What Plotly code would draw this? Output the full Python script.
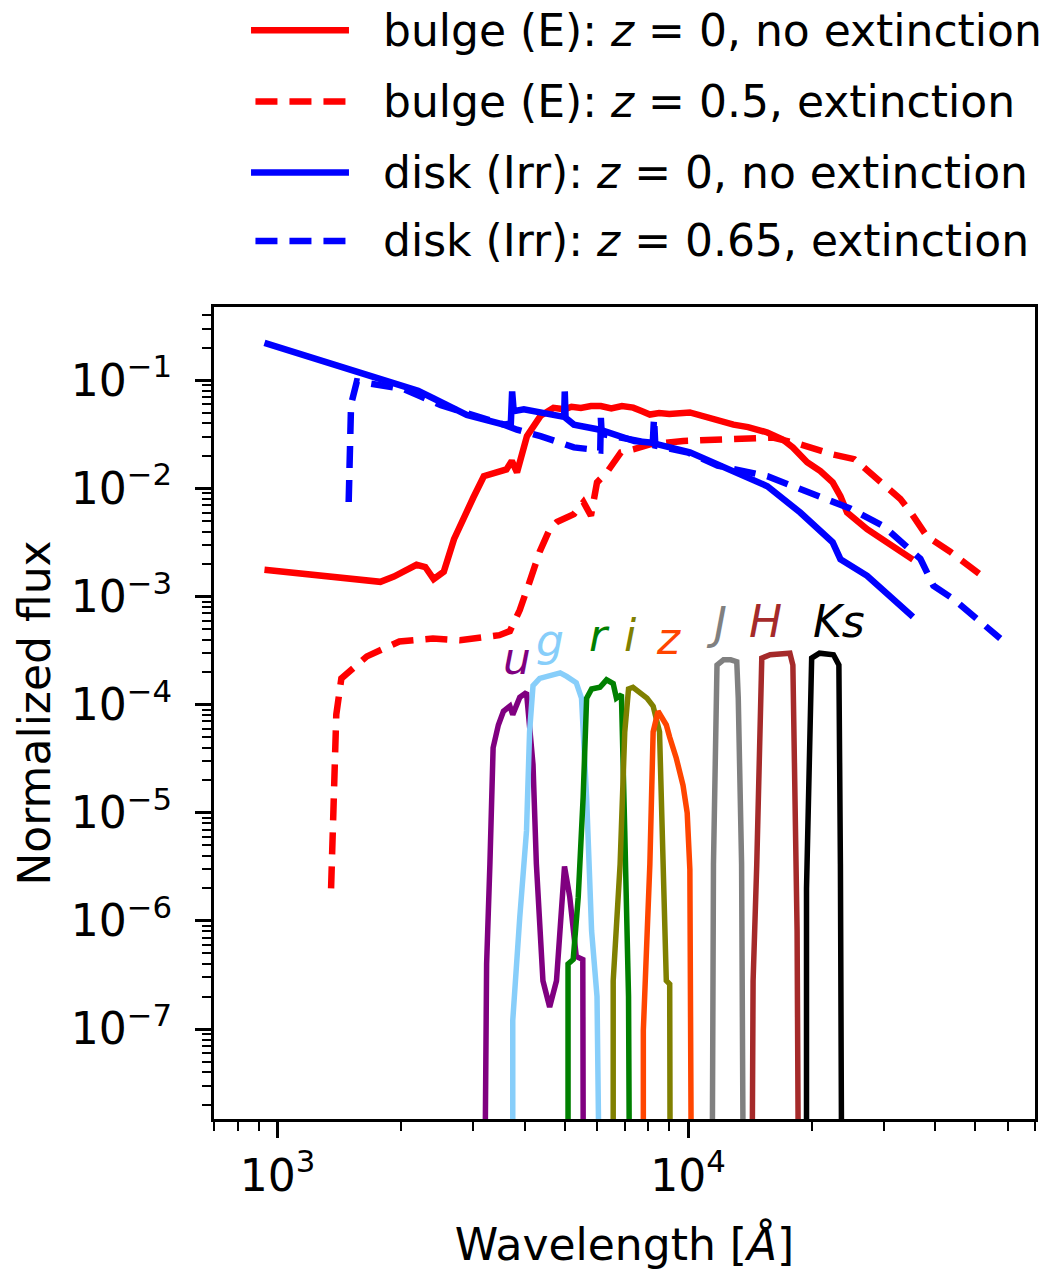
import numpy as np
import plotly.graph_objects as go

# ---------------- data (wavelength in Angstrom, normalized flux) ----------------
bulge_z0_wl = [929, 1780, 1920, 2180, 2290, 2400, 2540, 2690, 3000, 3180, 3610, 3720, 3830,
               4050, 4370, 4700, 5000, 5200, 5480, 5800, 6130, 6500, 6900, 7350, 7700, 8070,
               8500, 9000, 10100, 11000, 12000, 12900, 14000, 15600, 17000, 18000, 19500,
               21000, 22500, 23500, 24400, 27300, 35300]
bulge_z0_fl = [1.77e-3, 1.37e-3, 1.53e-3, 1.97e-3, 1.88e-3, 1.45e-3, 1.7e-3, 3.4e-3, 8.3e-3,
               0.013, 0.015, 0.018, 0.0141, 0.0305, 0.047, 0.0557, 0.054, 0.057, 0.0557, 0.058,
               0.058, 0.055, 0.058, 0.056, 0.052, 0.0483, 0.050, 0.049, 0.0505, 0.046, 0.043,
               0.039, 0.037, 0.033, 0.0284, 0.024, 0.0175, 0.0145, 0.0114, 0.0085, 0.0060,
               0.0042, 0.0022]

bulge_z05_wl = [1350, 1390, 1430, 1650, 1980, 2390, 2780, 3470, 3680, 3890, 4110, 4350, 4600,
                4790, 5270, 5560, 5800, 6000, 6340, 6860, 7350, 8070, 9730, 11800, 14100, 16100,
                18760, 22500, 25400, 28900, 32900, 34900, 38200, 43500, 50500, 52700]
bulge_z05_fl = [2e-6, 8.1e-5, 1.75e-4, 2.8e-4, 3.85e-4, 4.1e-4, 3.95e-4, 4.4e-4, 4.8e-4, 7.5e-4,
                1.37e-3, 2.6e-3, 4.2e-3, 4.9e-3, 5.8e-3, 7.5e-3, 5.6e-3, 0.0114, 0.0141, 0.0216,
                0.023, 0.0256, 0.0275, 0.0284, 0.0284, 0.0296, 0.0256, 0.0207, 0.0187, 0.0122,
                0.008, 0.006, 0.0036, 0.0026, 0.0017, 0.0015]

disk_z0_wl = [929, 2000, 2200, 2400, 2890, 3560, 3700, 3727, 3760, 3980, 4900, 4990, 5007, 5030,
              5270, 6100, 7400, 8070, 10100, 12900, 15600, 18760, 22500, 23500, 27300, 35300]
disk_z0_fl = [0.222, 0.091, 0.080, 0.068, 0.048, 0.039, 0.040, 0.079, 0.052, 0.054, 0.047, 0.046,
              0.079, 0.045, 0.039, 0.035, 0.0275, 0.0267, 0.0216, 0.0141, 0.0105, 0.006, 0.00318,
              0.00222, 0.00156, 6.5e-4]

disk_z065_wl = [1490, 1510, 1560, 1650, 2030, 2500, 3000, 3400, 3560, 3830, 4370, 5270, 6000,
                6110, 6130, 6160, 7400, 8200, 8260, 8320, 10000, 11800, 15600, 19500, 24900,
                29900, 36800, 39600, 44300, 57600]
disk_z065_fl = [0.0075, 0.06, 0.098, 0.095, 0.083, 0.059, 0.048, 0.042, 0.039, 0.035, 0.0305,
                0.024, 0.0222, 0.0225, 0.045, 0.032, 0.028, 0.026, 0.045, 0.025, 0.0215, 0.0163,
                0.013, 0.0093, 0.0065, 0.0045, 0.00224, 0.00126, 9.5e-4, 4.1e-4]

u_wl = [3190, 3230, 3290, 3350, 3450, 3550, 3680, 3740, 3890, 4040, 4190, 4270, 4430, 4600, 4780,
        4920, 5000, 5150, 5340, 5540, 5560]
u_fl = [1e-9, 4e-7, 3.35e-6, 4e-5, 6.5e-5, 8.7e-5, 9.7e-5, 8.1e-5, 1.17e-4, 1.3e-4, 2.8e-5,
        3.35e-6, 2.8e-7, 1.6e-7, 2.8e-7, 1.66e-6, 3.2e-6, 1.66e-6, 4.7e-7, 4.4e-7, 1e-9]

g_wl = [3740, 3740, 3890, 4040, 4110, 4190, 4350, 4880, 5060, 5340, 5500, 5660, 5820, 6000, 6100]
g_fl = [1e-9, 1.2e-7, 1.08e-6, 6.8e-6, 5.6e-5, 1.5e-4, 1.75e-4, 1.97e-4, 1.83e-4, 1.6e-4,
        1.15e-4, 1.38e-5, 8.1e-7, 2e-7, 1e-9]

r_wl = [5100, 5100, 5250, 5400, 5550, 5660, 5820, 6100, 6330, 6570, 6690, 6880, 7010, 7160, 7210]
r_fl = [1e-9, 4e-7, 4.4e-7, 1.66e-6, 1.38e-5, 1.15e-4, 1.4e-4, 1.45e-4, 1.7e-4, 1.57e-4,
        1.15e-4, 1.24e-4, 6.8e-6, 2e-7, 1e-9]

i_wl = [6570, 6570, 6830, 7010, 7160, 7340, 7940, 8220, 8520, 8620, 8790, 8850, 9020, 9050]
i_fl = [1e-9, 2.8e-7, 3.35e-6, 5.6e-5, 1.4e-4, 1.45e-4, 1.15e-4, 9.7e-5, 5.6e-5, 1.38e-5,
        8.1e-7, 2.8e-7, 2.6e-7, 1e-9]

z_wl = [7780, 7780, 8070, 8220, 8450, 8850, 9020, 9360, 9720, 9950, 10100, 10200]
z_fl = [1e-9, 9.7e-8, 3.35e-6, 5.6e-5, 8.7e-5, 6.5e-5, 5e-5, 3.2e-5, 1.8e-5, 1e-5, 3e-6, 1e-9]

J_wl = [11430, 11530, 11760, 12200, 12700, 13140, 13250, 13500, 13650]
J_fl = [1e-9, 3.35e-6, 2.33e-4, 2.6e-4, 2.6e-4, 2.5e-4, 1.15e-4, 3.35e-6, 1e-9]

H_wl = [14290, 14400, 14700, 15120, 15850, 17000, 17700, 18000, 18430, 18600]
H_fl = [1e-9, 2.8e-7, 3.35e-6, 2.7e-4, 2.9e-4, 2.95e-4, 3e-4, 2.33e-4, 8.1e-7, 1e-9]

Ks_wl = [19430, 19430, 20000, 20900, 22600, 23300, 23500, 23700]
Ks_fl = [1e-9, 2e-6, 2.7e-4, 3e-4, 2.9e-4, 2.33e-4, 3.35e-6, 1e-9]

band_names = ["u", "g", "r", "i", "z", "J", "H", "Ks"]
band_colors = ["purple", "lightskyblue", "green", "olive", "orangered", "gray", "brown", "black"]
band_label_wl = [3820, 4610, 6100, 7220, 8950, 11750, 15400, 23270]
band_label_fl = [2.68e-4, 3.9e-4, 4.4e-4, 4.4e-4, 4.1e-4, 5.6e-4, 5.83e-4, 5.83e-4]

legend_labels = ["bulge (E): <i>z</i> = 0, no extinction",
                 "bulge (E): <i>z</i> = 0.5, extinction",
                 "disk (Irr): <i>z</i> = 0, no extinction",
                 "disk (Irr): <i>z</i> = 0.65, extinction"]

x_major = [1e3, 1e4]
x_major_text = ["10<sup>3</sup>", "10<sup>4</sup>"]
y_major = [10.0 ** e for e in range(-7, 0)]
y_major_text = ["10<sup>\u2212%d</sup>" % (-e) for e in range(-7, 0)]

# ---------------- figure ----------------
FONT = "DejaVu Sans"
fig = go.Figure()


def add_line(x, y, color, dash="solid", width=5.0):
    fig.add_trace(go.Scatter(x=x, y=y, mode="lines",
                             line=dict(color=color, width=width, dash=dash),
                             showlegend=False, hoverinfo="skip"))


DASH = "22px,12px"
sed_series = [(bulge_z0_wl, bulge_z0_fl, "#ff0000", "solid"),
              (bulge_z05_wl, bulge_z05_fl, "#ff0000", DASH),
              (disk_z0_wl, disk_z0_fl, "#0000ff", "solid"),
              (disk_z065_wl, disk_z065_fl, "#0000ff", DASH)]
for wl, fl, c, d in sed_series:
    add_line(wl, fl, c, d, 6.5)

filters = [(u_wl, u_fl), (g_wl, g_fl), (r_wl, r_fl), (i_wl, i_fl), (z_wl, z_fl),
           (J_wl, J_fl), (H_wl, H_fl), (Ks_wl, Ks_fl)]
for (wl, fl), c in zip(filters, band_colors):
    add_line(wl, fl, c, "solid", 5.5)

annotations = []
for name, c, wl, fl in zip(band_names, band_colors, band_label_wl, band_label_fl):
    annotations.append(dict(x=np.log10(wl), y=np.log10(fl), xref="x", yref="y",
                            text="<i>%s</i>" % name, showarrow=False,
                            font=dict(family=FONT, size=44, color=c),
                            xanchor="center", yanchor="middle"))

# manual legend above the plot
legend_rows_y = [1.3408, 1.2530, 1.1655, 1.0813]
legend_styles = [("#ff0000", "solid"), ("#ff0000", DASH), ("#0000ff", "solid"), ("#0000ff", DASH)]
shapes = []
for ly, (c, d), lab in zip(legend_rows_y, legend_styles, legend_labels):
    x0, x1 = (0.0451, 0.1644) if d == "solid" else (0.0505, 0.1620)
    shapes.append(dict(type="line", xref="paper", yref="paper", x0=x0, x1=x1, y0=ly, y1=ly,
                       line=dict(color=c, width=6.5, dash=d)))
    annotations.append(dict(x=0.2030, y=ly, xref="paper", yref="paper", text=lab,
                            showarrow=False, xanchor="left", yanchor="middle",
                            font=dict(family=FONT, size=44, color="black")))

x_minor = [m * 10.0 ** e for e in (2, 3, 4) for m in range(2, 10)]
y_minor = [m * 10.0 ** e for e in range(-9, 1) for m in range(2, 10)]

axis_common = dict(type="log", showline=True, linecolor="black", linewidth=3, mirror=True,
                   ticks="outside", ticklen=16, tickwidth=3, tickcolor="black",
                   showgrid=False, zeroline=False,
                   tickfont=dict(family=FONT, size=44, color="black"))

fig.update_layout(
    width=1053, height=1274,
    margin=dict(l=214, r=18, t=307, b=151, pad=0),
    paper_bgcolor="white", plot_bgcolor="white",
    font=dict(family=FONT, size=44, color="black"),
    xaxis=dict(axis_common, range=[np.log10(700), np.log10(70000)],
               tickmode="array", tickvals=x_major, ticktext=x_major_text,
               minor=dict(tickmode="array", tickvals=x_minor, ticks="outside", ticklen=9,
                          tickwidth=2, tickcolor="black", showgrid=False),
               title=dict(text="Wavelength [<i>Å</i>]", font=dict(family=FONT, size=44),
                          standoff=30)),
    yaxis=dict(axis_common, range=[-7.832, -0.321],
               tickmode="array", tickvals=y_major, ticktext=y_major_text,
               ticklabelstandoff=14,
               minor=dict(tickmode="array", tickvals=y_minor, ticks="outside", ticklen=9,
                          tickwidth=2, tickcolor="black", showgrid=False),
               title=dict(text="Normalized flux", font=dict(family=FONT, size=44),
                          standoff=7)),
    annotations=annotations,
    shapes=shapes,
    showlegend=False,
)

fig.write_html("out.html")
